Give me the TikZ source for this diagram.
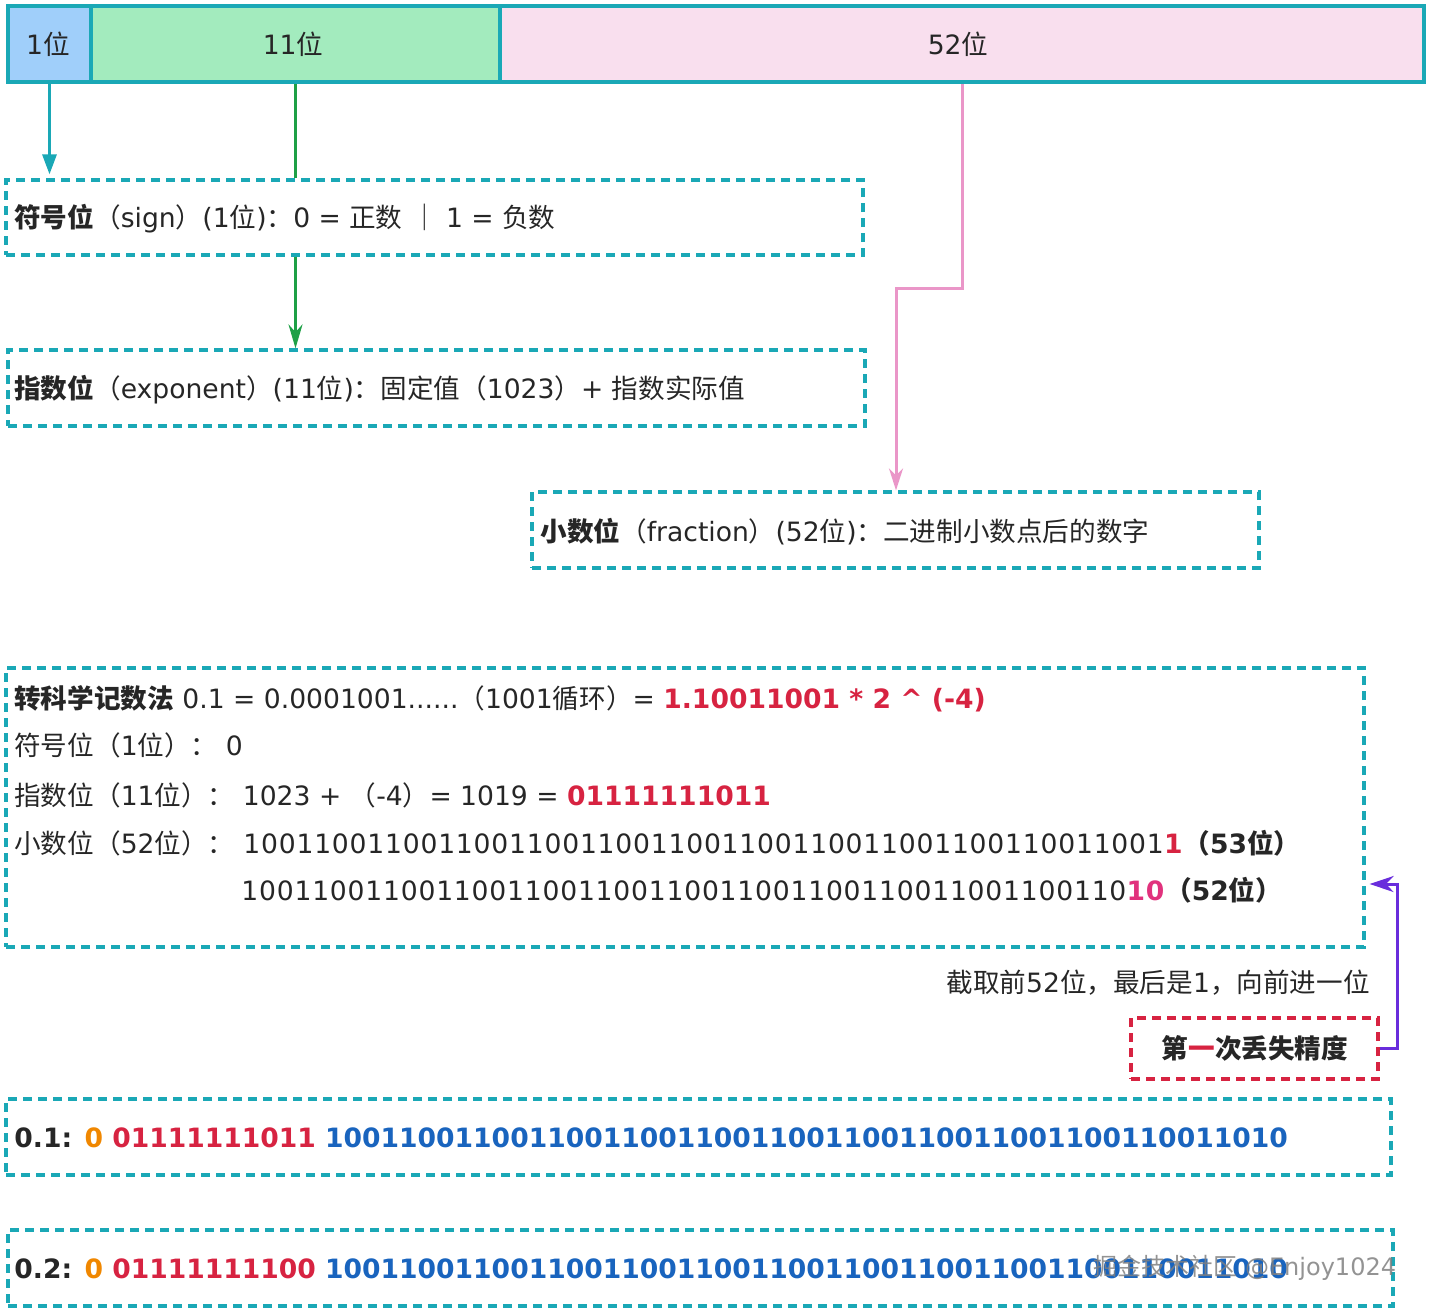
\documentclass[tikz,border=0pt]{standalone}
\usepackage{fontspec}
\setmainfont{DejaVu Sans}
\newfontfamily\zhfont{Noto Sans CJK SC}
\newfontfamily\bitfont[LetterSpace=3]{DejaVu Sans}
\newcommand{\zh}[1]{{\zhfont #1}}
\newcommand{\bitsxvi}{1001100110011001}
\newcommand{\bitsxii}{\bitsxvi\bitsxvi\bitsxvi}
\usetikzlibrary{arrows.meta,fit,positioning}

\definecolor{bitteal}{RGB}{26,168,182}
\definecolor{signblue}{RGB}{160,207,250}
\definecolor{expgreen}{RGB}{163,235,190}
\definecolor{fracpink}{RGB}{249,223,238}
\definecolor{arrgreen}{RGB}{30,160,70}
\definecolor{arrpink}{RGB}{234,150,200}
\definecolor{arrpurple}{RGB}{105,45,220}
\definecolor{numred}{RGB}{215,35,65}
\definecolor{numpink}{RGB}{225,50,125}
\definecolor{numorange}{RGB}{240,135,0}
\definecolor{numblue}{RGB}{25,100,190}

\begin{document}
\begin{tikzpicture}[x=0.5pt, y=-0.5pt,
  font=\fontsize{13.3}{16}\selectfont,
  every node/.style={text=black!85},
  txt/.style={anchor=base west, inner sep=0pt},
  bitcell/.style={draw=bitteal, line width=2pt, inner sep=0pt},
  dashbox/.style={draw=bitteal, line width=1.6pt, dash pattern=on 4.5pt off 3pt, inner sep=0pt},
  lossbox/.style={dashbox, draw=numred},
  link/.style={line width=1.5pt}]
\useasboundingbox (0,0) rectangle (1434,1312);

% the 64 bits
\node[bitcell, fill=signblue, fit={(8,6) (91,82)}] (bit1) {};
\node[bitcell, fill=expgreen, fit={(91,6) (500,82)}] (bit11) {};
\node[bitcell, fill=fracpink, fit={(500,6) (1424,82)}] (bit52) {};
\node[anchor=base, inner sep=0pt] (lbl1) at (48,54) {1\zh{位}};
\node[anchor=base, inner sep=0pt] (lbl11) at (293,54) {11\zh{位}};
\node[anchor=base, inner sep=0pt] (lbl52) at (958,54) {52\zh{位}};

% meaning of each part
\node[dashbox, fit={(6,180) (863,255)}] (sign) {};
\node[txt] (signtxt) at (14,227) {\textbf{\zh{符号位}}\zh{（}sign\zh{）}(1\zh{位})\zh{：}0 = \zh{正数} \zh{｜} 1 = \zh{负数}};
\node[dashbox, fit={(8,350) (865,426)}] (exp) {};
\node[txt] (exptxt) at (14,398) {\textbf{\zh{指数位}}\zh{（}exponent\zh{）}(11\zh{位})\zh{：固定值（}1023\zh{）}+ \zh{指数实际值}};
\node[dashbox, fit={(532,492) (1259,568)}] (frac) {};
\node[txt] (fractxt) at (540,541) {\textbf{\zh{小数位}}\zh{（}fraction\zh{）}(52\zh{位})\zh{：二进制小数点后的数字}};

\draw[link, bitteal, -{Triangle[length=10pt,width=7pt]}, shorten >=2pt] (bit1.south) -- (bit1.south |- sign.north);
\draw[link, arrgreen] (bit11.south) -- (bit11.south |- sign.north);
\draw[link, arrgreen, -{Stealth[length=12pt,width=7pt]}] (bit11.south |- sign.south) -- (bit11.south |- exp.north);
\coordinate (fracbend) at (896,288);
\draw[link, arrpink, -{Stealth[length=11pt,width=7pt]}] (bit52.south) |- (fracbend) -- (fracbend |- frac.north);

% 0.1 worked out
\node[dashbox, fit={(6,668) (1364,947)}] (calc) {};
\node[txt] (sci) at (14,708) {\textbf{\zh{转科学记数法}} 0.1 = 0.0001001......\zh{（}1001\zh{循环）}= \textcolor{numred}{\textbf{1.10011001 * 2 \textasciicircum{} (-4)}}};
\node[txt] (signval) at (14,755) {\zh{符号位（}1\zh{位）：} 0};
\node[txt] (expval) at (14,805) {\zh{指数位（}11\zh{位）：} 1023 + \zh{（}-4\zh{）}= 1019 = \textcolor{numred}{\textbf{01111111011}}};
\node[txt] (fraclbl) at (14,853) {\zh{小数位（}52\zh{位）：}};
\node[txt] (bits53) at (243,853) {{\bitfont\bitsxii 1001\textcolor{numred}{\textbf{1}}}\textbf{\zh{（}53\zh{位）}}};
\node[txt] (bits52) at (241,900) {{\bitfont\bitsxii 10\textcolor{numpink}{\textbf{10}}}\textbf{\zh{（}52\zh{位）}}};

\node[anchor=base east, inner sep=0pt] (cut) at (1370,992) {\zh{截取前}52\zh{位，最后是}1\zh{，向前进一位}};
\node[lossbox, fit={(1131,1018) (1378,1079)}] (loss) {};
\node[anchor=base, inner sep=0pt] (losstxt) at (1255,1058) {\textbf{\zh{第\textcolor{numred}{一}次丢失精度}}};
\coordinate (carryturn) at (1397,884);
\draw[link, arrpurple, -{Stealth[length=12pt,width=8pt]}, shorten >=2pt] (loss.east) -| (carryturn) -- (calc.east |- carryturn);

% stored bits of 0.1 and 0.2
\node[dashbox, fit={(6,1099) (1391,1175)}] (one) {};
\node[txt] (onebits) at (14,1147) {\textbf{0.1: \textcolor{numorange}{0} \textcolor{numred}{01111111011} \textcolor{numblue}{\bitsxii 1010}}};
\node[dashbox, fit={(8,1230) (1393,1306)}] (two) {};
\node[txt] (twobits) at (14,1278) {\textbf{0.2: \textcolor{numorange}{0} \textcolor{numred}{01111111100} \textcolor{numblue}{\bitsxii 1010}}};
\node[anchor=base west, inner sep=0pt, text=gray, opacity=0.85, font=\fontsize{12}{14}\selectfont] (mark) at (1093,1275) {\zh{掘金技术社区} @Enjoy1024};
\end{tikzpicture}
\end{document}
